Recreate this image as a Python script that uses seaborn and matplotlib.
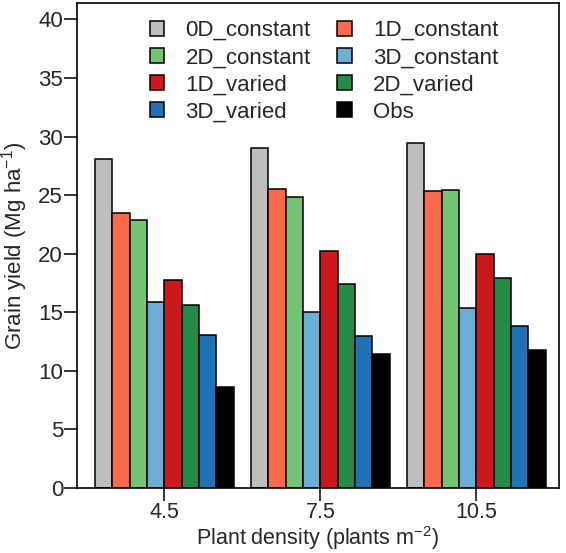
import matplotlib
matplotlib.use("Agg")
import matplotlib.pyplot as plt
import pandas as pd
import seaborn as sns

# ── Data ──────────────────────────────────────────────────────────────────────
densities = ["4.5", "7.5", "10.5"]
scenarios = ["0D_constant", "1D_constant", "2D_constant", "3D_constant",
             "1D_varied", "2D_varied", "3D_varied", "Obs"]

yield_0d_constant = [28.1, 29.05, 29.45]
yield_1d_constant = [23.45, 25.55, 25.35]
yield_2d_constant = [22.85, 24.8, 25.45]
yield_3d_constant = [15.9, 15.0, 15.4]
yield_1d_varied = [17.75, 20.25, 19.95]
yield_2d_varied = [15.6, 17.4, 17.95]
yield_3d_varied = [13.1, 12.95, 13.85]
yield_obs = [8.65, 11.45, 11.75]

colors = ["#BEBEBE", "#FB6A4A", "#74C476", "#6BAED6",
          "#CB181D", "#238B45", "#2171B5", "#000000"]

series = [yield_0d_constant, yield_1d_constant, yield_2d_constant,
          yield_3d_constant, yield_1d_varied, yield_2d_varied,
          yield_3d_varied, yield_obs]

rows = []
for name, vals in zip(scenarios, series):
    for d, v in zip(densities, vals):
        rows.append({"density": d, "scenario": name, "yield": v})
df = pd.DataFrame(rows)

# ── Plot ──────────────────────────────────────────────────────────────────────
sns.set_style("ticks")
plt.rcParams["font.family"] = ["Liberation Sans", "DejaVu Sans"]
plt.rcParams["mathtext.fontset"] = "custom"
plt.rcParams["mathtext.rm"] = "Liberation Sans"
plt.rcParams["mathtext.it"] = "Liberation Sans"

fs = 16
W, H = 566, 553
fig = plt.figure(figsize=(W / 100, H / 100), dpi=100)
ax = fig.add_axes([77 / W, 1 - 488 / H, (559 - 77) / W, (488 - 3) / H])

sns.barplot(
    data=df, x="density", y="yield", hue="scenario",
    order=densities, hue_order=scenarios, palette=colors,
    width=8 / 9, edgecolor="black", linewidth=1.1,
    saturation=1, errorbar=None, ax=ax,
)

ax.set_ylim(0, 41.4)
ax.set_xlim(-0.56, 2.53)
ax.set_yticks([0, 5, 10, 15, 20, 25, 30, 35, 40])
ax.tick_params(axis="both", direction="out", length=9.5, width=1.1,
               labelsize=fs, pad=0.5, color="black")
ax.tick_params(axis="x", labelsize=15.5)
for side in ["top", "right", "left", "bottom"]:
    ax.spines[side].set_visible(True)
    ax.spines[side].set_linewidth(1.2)
    ax.spines[side].set_color("black")

ax.set_xlabel(r"Plant density (plants m$^{-2}$)", fontsize=15.5)
ax.set_ylabel(r"Grain yield (Mg ha$^{-1}$)", fontsize=fs)
ax.yaxis.set_label_coords(-0.098, 0.5)

# put the x label right under the tick labels
fig.canvas.draw()
renderer = fig.canvas.get_renderer()
tick_bottom = min(t.get_window_extent(renderer).y0 for t in ax.get_xticklabels())
ax_box = ax.get_window_extent(renderer)
ax.xaxis.set_label_coords(0.5, (tick_bottom - 1 - ax_box.y0) / ax_box.height)

handles, labels = ax.get_legend_handles_labels()
idx = [0, 2, 4, 6, 1, 3, 5, 7]
ax.legend(
    [handles[i] for i in idx], [labels[i] for i in idx],
    ncol=2, loc="upper left", bbox_to_anchor=((150 - 77) / 482, (488 - 20) / 485),
    frameon=False, fontsize=fs, handlelength=0.65, handleheight=0.65,
    handletextpad=0.95, columnspacing=1.2, labelspacing=0.28,
    borderpad=0, borderaxespad=0,
)

fig.savefig("out.png", dpi=100)
